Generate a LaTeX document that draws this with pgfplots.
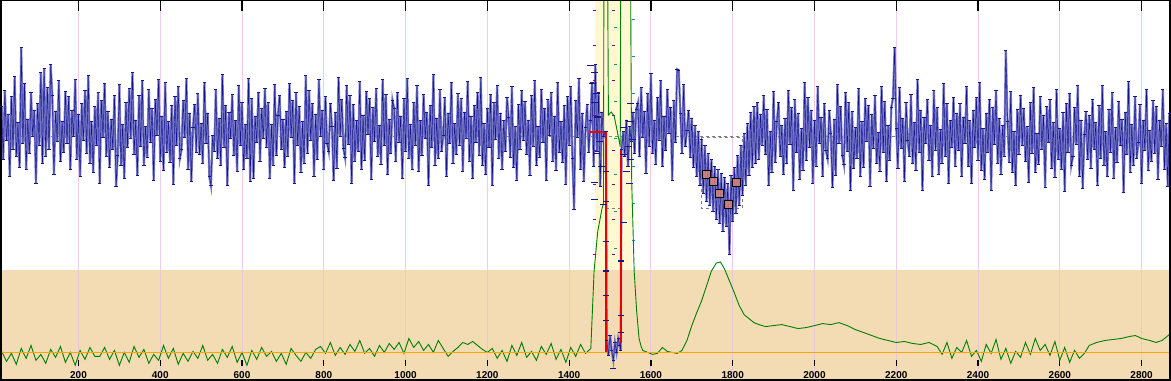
\documentclass[border=0pt]{standalone}
\usepackage{fontspec}
\setmainfont{Liberation Sans}
\usepackage{pgfplots}
\usepackage{pgfplotstable}
\pgfplotsset{compat=1.18}
\definecolor{tanbg}{RGB}{243,220,180}
\definecolor{yellowbg}{RGB}{255,248,208}
\definecolor{gridpink}{RGB}{238,205,238}
\definecolor{gridpinkb}{RGB}{230,200,210}
\definecolor{navy}{RGB}{20,20,140}
\definecolor{lightblue}{RGB}{120,120,200}
\definecolor{dgreen}{RGB}{0,128,0}
\definecolor{orangeline}{RGB}{255,165,0}
\definecolor{redline}{RGB}{235,0,0}
\definecolor{salmon}{RGB}{240,140,110}
\definecolor{teal2}{RGB}{0,150,150}

\pgfplotstableread[row sep=\\]{
x y\\
12 276\\ 16 222\\ 20 292\\ 24 241\\ 28 268\\ 32 205\\ 36 286\\ 40 232\\ 44 306\\ 48 225\\
52 259\\ 56 214\\ 60 335\\ 64 238\\ 68 299\\ 72 212\\ 76 263\\ 80 228\\ 84 290\\ 88 245\\
92 272\\ 96 198\\ 100 279\\ 104 236\\ 108 310\\ 112 218\\ 116 314\\ 120 225\\ 124 295\\ 128 232\\
132 318\\ 136 287\\ 140 207\\ 144 271\\ 148 240\\ 152 302\\ 156 220\\ 160 260\\ 164 229\\ 168 291\\
172 238\\ 176 286\\ 180 212\\ 184 272\\ 188 245\\ 192 303\\ 196 222\\ 200 268\\ 204 205\\ 208 279\\
212 241\\ 216 292\\ 220 228\\ 224 307\\ 228 218\\ 232 260\\ 236 209\\ 240 276\\ 244 236\\ 248 290\\
252 198\\ 256 282\\ 260 244\\ 264 299\\ 268 225\\ 272 271\\ 276 214\\ 280 263\\ 284 232\\ 288 287\\
292 195\\ 296 226\\ 300 298\\ 304 216\\ 308 257\\ 312 203\\ 316 280\\ 320 234\\ 324 294\\ 328 243\\
332 310\\ 336 227\\ 340 262\\ 344 206\\ 348 287\\ 352 235\\ 356 302\\ 360 216\\ 364 255\\ 368 224\\
372 293\\ 376 239\\ 380 274\\ 384 201\\ 388 283\\ 392 246\\ 396 303\\ 400 220\\ 404 266\\ 408 211\\
412 300\\ 416 229\\ 420 260\\ 424 219\\ 428 277\\ 432 197\\ 436 286\\ 440 236\\ 444 296\\ 448 223\\
452 232\\ 456 282\\ 460 244\\ 464 304\\ 468 212\\ 472 269\\ 476 200\\ 480 254\\ 484 278\\ 488 229\\
492 289\\ 496 227\\ 500 258\\ 504 218\\ 508 300\\ 512 238\\ 516 269\\ 520 205\\ 524 196\\ 528 246\\
532 230\\ 536 293\\ 540 223\\ 544 264\\ 548 216\\ 552 308\\ 556 234\\ 560 277\\ 564 196\\ 568 270\\
572 243\\ 576 288\\ 580 226\\ 584 261\\ 588 210\\ 592 297\\ 596 236\\ 600 280\\ 604 212\\ 608 257\\
612 223\\ 616 304\\ 620 200\\ 624 284\\ 628 203\\ 632 266\\ 636 239\\ 640 290\\ 644 220\\ 648 274\\
652 243\\ 656 294\\ 660 234\\ 664 280\\ 668 203\\ 672 257\\ 676 216\\ 680 298\\ 684 226\\ 688 267\\
692 287\\ 696 232\\ 700 263\\ 704 214\\ 708 271\\ 712 225\\ 716 299\\ 720 244\\ 724 282\\ 728 198\\
732 290\\ 736 236\\ 740 276\\ 744 209\\ 748 260\\ 752 218\\ 756 307\\ 760 228\\ 764 292\\ 768 241\\
772 279\\ 776 205\\ 780 268\\ 784 222\\ 788 303\\ 792 245\\ 796 272\\ 800 212\\ 804 286\\ 808 238\\
812 230\\ 816 279\\ 820 255\\ 824 201\\ 828 270\\ 832 213\\ 836 305\\ 840 245\\ 844 283\\ 848 233\\
852 224\\ 856 297\\ 860 237\\ 864 287\\ 868 198\\ 872 278\\ 876 220\\ 880 261\\ 884 230\\ 888 301\\
892 212\\ 896 267\\ 900 221\\ 904 291\\ 908 247\\ 912 284\\ 916 202\\ 920 275\\ 924 240\\ 928 294\\
932 225\\ 936 256\\ 940 217\\ 944 303\\ 948 236\\ 952 288\\ 956 207\\ 960 263\\ 964 228\\ 968 282\\
972 274\\ 976 220\\ 980 290\\ 984 239\\ 988 266\\ 992 203\\ 996 284\\ 1000 230\\ 1004 304\\ 1008 223\\
1012 257\\ 1016 212\\ 1020 280\\ 1024 236\\ 1028 297\\ 1032 210\\ 1036 261\\ 1040 226\\ 1044 288\\ 1048 243\\
1052 270\\ 1056 196\\ 1060 277\\ 1064 234\\ 1068 308\\ 1072 216\\ 1076 264\\ 1080 223\\ 1084 293\\ 1088 230\\
1092 246\\ 1096 285\\ 1100 205\\ 1104 269\\ 1108 238\\ 1112 300\\ 1116 218\\ 1120 258\\ 1124 227\\ 1128 289\\
1132 236\\ 1136 284\\ 1140 210\\ 1144 270\\ 1148 243\\ 1152 301\\ 1156 220\\ 1160 266\\ 1164 203\\ 1168 277\\
1172 239\\ 1176 290\\ 1180 226\\ 1184 305\\ 1188 216\\ 1192 258\\ 1196 207\\ 1200 274\\ 1204 234\\ 1208 288\\
1212 196\\ 1216 280\\ 1220 242\\ 1224 297\\ 1228 223\\ 1232 269\\ 1236 212\\ 1240 261\\ 1244 230\\ 1248 285\\
1252 265\\ 1256 224\\ 1260 296\\ 1264 214\\ 1268 255\\ 1272 201\\ 1276 278\\ 1280 232\\ 1284 292\\ 1288 241\\
1292 281\\ 1296 227\\ 1300 262\\ 1304 206\\ 1308 287\\ 1312 235\\ 1316 302\\ 1320 216\\ 1324 255\\ 1328 224\\
1332 293\\ 1336 239\\ 1340 274\\ 1344 201\\ 1348 283\\ 1352 246\\ 1356 290\\ 1360 220\\ 1364 266\\ 1368 211\\
1372 300\\ 1376 229\\ 1380 260\\ 1384 219\\ 1388 277\\ 1392 197\\ 1396 286\\ 1400 236\\ 1404 296\\ 1408 223\\
1412 172\\ 1416 282\\ 1420 244\\ 1424 304\\ 1428 212\\ 1432 269\\ 1436 200\\ 1440 254\\ 1444 278\\ 1448 229\\
1452 262\\ 1456 300\\ 1460 215\\ 1464 318\\ 1468 230\\ 1472 290\\ 1476 195\\ 1480 270\\ 1484 245\\ 1488 250\\
1490 250\\ 1492 40\\ 1496 25\\ 1500 45\\ 1504 30\\ 1508 20\\ 1512 38\\ 1516 28\\ 1520 42\\ 1524 35\\
1526 30\\ 1528 232\\ 1532 250\\ 1536 225\\ 1540 262\\ 1544 215\\ 1548 255\\ 1552 240\\ 1556 270\\ 1560 228\\
1564 273\\ 1568 279\\ 1572 225\\ 1576 295\\ 1580 244\\ 1584 271\\ 1588 208\\ 1592 289\\ 1596 235\\ 1600 309\\
1604 228\\ 1608 262\\ 1612 217\\ 1616 285\\ 1620 241\\ 1624 302\\ 1628 215\\ 1632 266\\ 1636 231\\ 1640 293\\
1644 248\\ 1648 275\\ 1652 201\\ 1656 282\\ 1660 239\\ 1664 313\\ 1668 312\\ 1672 269\\ 1676 228\\ 1680 298\\
1684 235\\ 1688 251\\
1692 272\\ 1696 224\\ 1700 264\\ 1704 214\\ 1708 256\\ 1712 205\\ 1716 250\\ 1720 196\\ 1724 242\\ 1728 188\\
1732 236\\ 1736 180\\ 1740 228\\ 1744 176\\ 1748 222\\ 1752 170\\ 1756 215\\ 1760 162\\ 1764 212\\ 1768 158\\
1772 208\\ 1776 150\\ 1780 204\\ 1784 155\\ 1788 198\\ 1792 127\\ 1796 206\\ 1800 160\\ 1804 214\\ 1808 168\\
1812 226\\ 1816 176\\ 1820 236\\ 1824 186\\ 1828 248\\ 1832 196\\ 1836 258\\ 1840 206\\ 1844 270\\ 1848 214\\
1852 276\\ 1856 218\\ 1860 280\\ 1864 222\\ 1868 268\\
1872 236\\ 1876 287\\ 1880 227\\ 1884 273\\ 1888 196\\ 1892 250\\ 1896 209\\ 1900 291\\ 1904 219\\ 1908 260\\
1912 280\\ 1916 225\\ 1920 256\\ 1924 207\\ 1928 264\\ 1932 218\\ 1936 292\\ 1940 237\\ 1944 275\\ 1948 191\\
1952 283\\ 1956 229\\ 1960 269\\ 1964 202\\ 1968 253\\ 1972 211\\ 1976 300\\ 1980 221\\ 1984 285\\ 1988 234\\
1992 272\\ 1996 198\\ 2000 261\\ 2004 215\\ 2008 296\\ 2012 238\\ 2016 265\\ 2020 205\\ 2024 279\\ 2028 231\\
2032 223\\ 2036 272\\ 2040 248\\ 2044 194\\ 2048 263\\ 2052 206\\ 2056 298\\ 2060 238\\ 2064 276\\ 2068 226\\
2072 217\\ 2076 290\\ 2080 230\\ 2084 280\\ 2088 191\\ 2092 271\\ 2096 213\\ 2100 254\\ 2104 223\\ 2108 294\\
2112 205\\ 2116 260\\ 2120 214\\ 2124 284\\ 2128 240\\ 2132 277\\ 2136 195\\ 2140 268\\ 2144 233\\ 2148 287\\
2152 218\\ 2156 249\\ 2160 210\\ 2164 296\\ 2168 229\\ 2172 281\\ 2176 200\\ 2180 256\\ 2184 221\\ 2188 275\\
2192 284\\ 2196 335\\ 2200 253\\ 2204 213\\ 2208 295\\ 2212 233\\ 2216 264\\ 2220 200\\ 2224 280\\ 2228 241\\
2232 225\\ 2236 288\\ 2240 218\\ 2244 259\\ 2248 211\\ 2252 303\\ 2256 229\\ 2260 272\\ 2264 191\\ 2268 265\\
2272 238\\ 2276 283\\ 2280 221\\ 2284 256\\ 2288 205\\ 2292 292\\ 2296 231\\ 2300 275\\ 2304 207\\ 2308 252\\
2312 218\\ 2316 299\\ 2320 225\\ 2324 279\\ 2328 198\\ 2332 261\\ 2336 234\\ 2340 285\\ 2344 215\\ 2348 269\\
2352 231\\ 2356 279\\ 2360 205\\ 2364 265\\ 2368 238\\ 2372 296\\ 2376 215\\ 2380 261\\ 2384 198\\ 2388 272\\
2392 234\\ 2396 285\\ 2400 221\\ 2404 300\\ 2408 211\\ 2412 253\\ 2416 202\\ 2420 269\\ 2424 229\\ 2428 283\\
2432 191\\ 2436 275\\ 2440 237\\ 2444 292\\ 2448 218\\ 2452 264\\ 2456 207\\ 2460 256\\ 2464 225\\ 2468 332\\
2472 260\\ 2476 219\\ 2480 291\\ 2484 209\\ 2488 250\\ 2492 196\\ 2496 273\\ 2500 227\\ 2504 287\\ 2508 236\\
2512 274\\ 2516 220\\ 2520 255\\ 2524 199\\ 2528 280\\ 2532 228\\ 2536 295\\ 2540 209\\ 2544 248\\ 2548 217\\
2552 286\\ 2556 232\\ 2560 267\\ 2564 194\\ 2568 276\\ 2572 239\\ 2576 283\\ 2580 213\\ 2584 259\\ 2588 204\\
2592 293\\ 2596 222\\ 2600 253\\ 2604 212\\ 2608 270\\ 2612 190\\ 2616 279\\ 2620 229\\ 2624 289\\ 2628 216\\
2632 225\\ 2636 275\\ 2640 237\\ 2644 297\\ 2648 205\\ 2652 262\\ 2656 193\\ 2660 247\\ 2664 271\\ 2668 222\\
2672 267\\ 2676 213\\ 2680 283\\ 2684 232\\ 2688 259\\ 2692 196\\ 2696 277\\ 2700 223\\ 2704 297\\ 2708 216\\
2712 250\\ 2716 205\\ 2720 273\\ 2724 229\\ 2728 290\\ 2732 203\\ 2736 254\\ 2740 219\\ 2744 281\\ 2748 236\\
2752 263\\ 2756 189\\ 2760 270\\ 2764 227\\ 2768 301\\ 2772 209\\ 2776 257\\ 2780 216\\ 2784 286\\ 2788 223\\
2792 239\\ 2796 278\\ 2800 198\\ 2804 262\\ 2808 231\\ 2812 293\\ 2816 211\\ 2820 251\\ 2824 220\\ 2828 282\\
2832 228\\ 2836 276\\ 2840 202\\ 2844 262\\ 2848 235\\ 2852 293\\ 2856 212\\ 2860 258\\ 2864 195\\ 2868 269\\
}\bluedata

\pgfplotstableread[row sep=\\]{
x y\\
12 29\\ 24 19\\ 36 27\\ 48 16\\ 60 32\\ 72 22\\ 84 35\\ 96 20\\ 108 26\\ 120 17\\
132 31\\ 144 23\\ 156 34\\ 168 18\\ 180 28\\ 192 15\\ 204 30\\ 216 21\\ 228 33\\ 240 24\\
252 24\\ 264 33\\ 276 21\\ 288 30\\ 300 15\\ 312 28\\ 324 18\\ 336 34\\ 348 23\\ 360 31\\
372 17\\ 384 26\\ 396 20\\ 408 35\\ 420 22\\ 432 32\\ 444 16\\ 456 27\\ 468 19\\ 480 29\\
492 22\\ 504 35\\ 516 20\\ 528 26\\ 540 17\\ 552 31\\ 564 23\\ 576 34\\ 588 18\\ 600 28\\
612 15\\ 624 30\\ 636 21\\ 648 33\\ 660 24\\ 672 29\\ 684 19\\ 696 27\\ 708 16\\ 720 32\\
732 25\\ 744 19\\ 756 28\\ 768 22\\ 780 31\\ 792 34\\ 804 27\\ 816 38\\ 828 25\\ 840 33\\
852 26\\ 864 36\\ 876 29\\ 888 40\\ 900 27\\ 912 32\\ 924 24\\ 936 35\\ 948 28\\ 960 37\\
972 31\\ 984 38\\ 996 27\\ 1008 42\\ 1020 33\\ 1032 39\\ 1044 30\\ 1056 36\\ 1068 28\\ 1080 40\\
1092 32\\ 1104 24\\ 1116 29\\ 1128 33\\ 1140 38\\ 1152 36\\ 1164 39\\ 1176 35\\ 1188 31\\ 1200 28\\
1212 32\\ 1224 22\\ 1236 30\\ 1248 19\\ 1260 35\\ 1272 25\\ 1284 38\\ 1296 23\\ 1308 29\\ 1320 20\\
1332 34\\ 1344 26\\ 1356 37\\ 1368 21\\ 1380 31\\ 1392 18\\ 1404 33\\ 1416 24\\ 1428 36\\ 1440 27\\
1453 32\\ 1461 110\\ 1470 150\\ 1480 172\\ 1484 178\\ 1485 420\\ 1494 420\\ 1496 267\\ 1503 270\\ 1510 266\\
1518 250\\ 1525 235\\ 1526 420\\ 1550 420\\ 1553 200\\ 1559 110\\ 1565 70\\ 1571 42\\ 1576 34\\
1580 30\\ 1592 28\\ 1604 26\\ 1616 27\\ 1628 33\\ 1640 29\\ 1652 28\\ 1664 27\\ 1676 30\\ 1688 40\\
1700 55\\ 1712 68\\ 1724 80\\ 1736 95\\ 1748 110\\ 1760 118\\ 1770 119\\ 1780 112\\ 1792 100\\ 1804 88\\
1816 75\\ 1828 66\\ 1840 62\\ 1852 58\\ 1864 56\\ 1880 54\\ 1900 55\\ 1920 56\\ 1940 54\\ 1960 52\\
1980 53\\ 2000 55\\ 2020 57\\ 2040 56\\ 2060 58\\ 2080 55\\ 2100 51\\ 2120 48\\ 2140 45\\ 2160 42\\
2180 40\\ 2200 38\\ 2220 39\\ 2240 37\\ 2260 36\\ 2280 38\\
2300 34\\ 2312 26\\ 2324 38\\ 2336 22\\ 2348 33\\ 2360 28\\ 2372 40\\ 2384 24\\ 2396 30\\ 2408 19\\
2420 36\\ 2432 27\\ 2444 41\\ 2456 21\\ 2468 32\\ 2480 17\\ 2492 29\\ 2504 23\\ 2516 38\\ 2528 26\\
2540 42\\ 2552 30\\ 2564 36\\ 2576 25\\ 2588 39\\ 2600 20\\ 2612 33\\ 2624 18\\ 2636 30\\ 2648 22\\
2660 27\\ 2672 35\\ 2690 38\\ 2710 40\\ 2730 41\\ 2750 42\\ 2770 44\\ 2785 45\\ 2800 42\\ 2820 40\\
2835 38\\ 2850 40\\ 2868 46\\
}\greendata

\begin{document}
\begin{tikzpicture}
\begin{axis}[
  width=1168pt, height=379pt, scale only axis,
  xmin=10, xmax=2870, ymin=0, ymax=382,
  axis line style={line width=1.5pt, black},
  ytick=\empty,
  xtick={200,400,...,2800},
  xticklabel={\fontsize{10}{12}\selectfont\bfseries\pgfmathprintnumber[assume math mode=true,1000 sep={}]{\tick}},
  major tick length=0pt,
  xticklabel style={anchor=base, yshift=1.8pt, inner sep=0pt},
  clip=true,
  axis on top=true,
]
% backgrounds
\fill[tanbg] (axis cs:0,0) rectangle (axis cs:2900,111);
\fill[yellowbg] (axis cs:1463,111) rectangle (axis cs:1554,382);
% grid lines and ticks
\pgfplotsinvokeforeach{200,400,...,2800}{
  \draw[gridpink, line width=1pt] (axis cs:#1,111) -- (axis cs:#1,382);
  \draw[gridpinkb, line width=1pt] (axis cs:#1,0) -- (axis cs:#1,111);
  \draw[black, line width=1.3pt] (axis cs:#1,372) -- (axis cs:#1,382);
  \draw[black, line width=1.3pt] (axis cs:#1,14) -- (axis cs:#1,20);
}
% dashed reference lines
\addplot[gray, dashed, line width=0.7pt] coordinates {(0,245) (2900,245)};
\addplot[gray, dashed, line width=0.7pt] coordinates {(1490,173) (1527,173)};
\addplot[gray, dashed, line width=0.8pt] coordinates {(1723,244) (1823,244) (1823,173) (1723,173) (1723,244)};
% green and orange
\addplot[dgreen, line width=0.9pt] table[x=x,y=y] {\greendata};
\addplot[orangeline, line width=1.5pt] coordinates {(0,28) (2900,28)};
% blue series
\addplot[lightblue, line width=2.2pt] table[x=x,y=y] {\bluedata};
\addplot[navy, line width=0.45pt, mark=-, mark size=1.6pt, mark options={line width=0.9pt}] table[x=x,y=y] {\bluedata};
% scattered dashes in the band
\addplot[navy, only marks, mark=-, mark size=3.5pt, mark options={line width=1.1pt}] coordinates {
(1453,317) (1461,310) (1458,299) (1467,289) (1461,280) (1551,279) (1551,260) (1534,254)
(1556,242) (1545,235) (1532,227) (1551,222) (1461,199) (1461,182) (1485,177) (1532,159)
(1470,265) (1475,240) (1466,228) (1480,215) (1540,210) (1548,198)};
% red drop lines
\addplot[redline, line width=2.5pt] coordinates {(1452,250) (1490,250) (1490,28)};
\addplot[redline, line width=2.5pt] coordinates {(1527,232) (1527,37)};
\addplot[navy, only marks, mark=-, mark size=3pt, mark options={line width=1.2pt}] coordinates {
(1490,210) (1490,180) (1490,140) (1490,110) (1490,85) (1490,60) (1527,120) (1527,65) (1527,48) (1508,12)};
% dotted markers in band
\addplot[violet, only marks, mark=-, mark size=1.5pt] coordinates {
(1461,372) (1461,337) (1461,302) (1461,267) (1461,232) (1461,197) (1461,162) (1461,127)
(1508,372) (1508,337) (1508,302) (1508,267) (1508,232) (1508,197) (1508,162) (1508,127)};
\addplot[teal2, only marks, mark=-, mark size=1.5pt] coordinates {
(1557,363) (1557,326) (1557,289) (1557,252) (1557,215) (1557,178) (1557,141)
(1514,355) (1514,318) (1514,281) (1514,244) (1514,207) (1514,170) (1514,133)};
% orange squares in dip
\addplot[only marks, mark=square*, mark size=4pt, mark options={fill=salmon, draw=none, fill opacity=0.7}] coordinates {
(1735,207) (1752,200) (1767,188) (1789,177) (1808,199)};
\end{axis}
\end{tikzpicture}
\end{document}
